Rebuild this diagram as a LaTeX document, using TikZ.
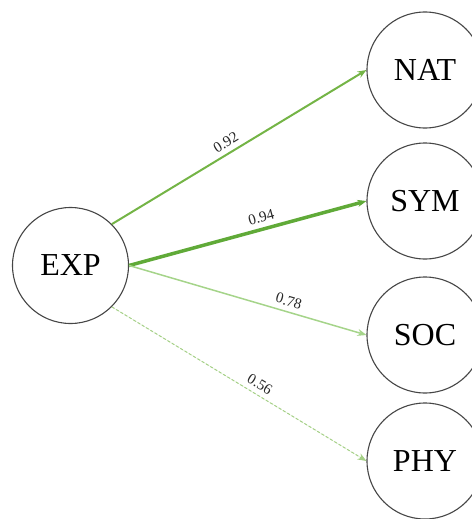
\documentclass[tikz,border=0pt]{standalone}
\usepackage{fontspec}
\setmainfont{Liberation Serif}
\usetikzlibrary{arrows.meta}
\definecolor{gA}{RGB}{116,180,70}
\definecolor{gB}{RGB}{96,170,56}
\definecolor{gC}{RGB}{165,212,138}
\definecolor{gD}{RGB}{165,208,135}
\definecolor{rim}{RGB}{70,70,70}
\tikzset{
  latent/.style={circle,draw=rim,line width=1.1pt,minimum size=116pt,inner sep=0pt,font=\fontsize{32}{36}\selectfont,fill=white},
  lab/.style={font=\fontsize{15}{17}\selectfont,sloped,above,inner sep=5pt,text=black!85},
  tip/.style={-{Stealth[length=9pt,width=7pt]}}
}
\begin{document}
\begin{tikzpicture}[x=1pt,y=-1pt]
\useasboundingbox (0,0) rectangle (471,519);
\node[latent] (exp) at (70.5,265.5) {EXP};
\node[latent] (nat) at (425,70) {NAT};
\node[latent] (sym) at (425,201) {SYM};
\node[latent] (soc) at (425,335) {SOC};
\node[latent] (phy) at (425,461) {PHY};
\draw[tip,draw=gA,fill=gA,line width=2pt] (exp.45) -- node[lab,pos=0.47] {0.92} (nat.west);
\draw[tip,draw=gB,fill=gB,line width=3.5pt] (exp.east) -- node[lab,pos=0.57] {0.94} (sym.west);
\draw[tip,draw=gC,fill=gC,line width=1.5pt] (exp.east) -- node[lab,pos=0.66] {0.78} (soc.west);
\draw[tip,draw=gD,fill=gD,line width=1pt,dash pattern=on 3pt off 2pt] (exp.-45) -- node[lab,pos=0.56] {0.56} (phy.west);
\end{tikzpicture}
\end{document}
